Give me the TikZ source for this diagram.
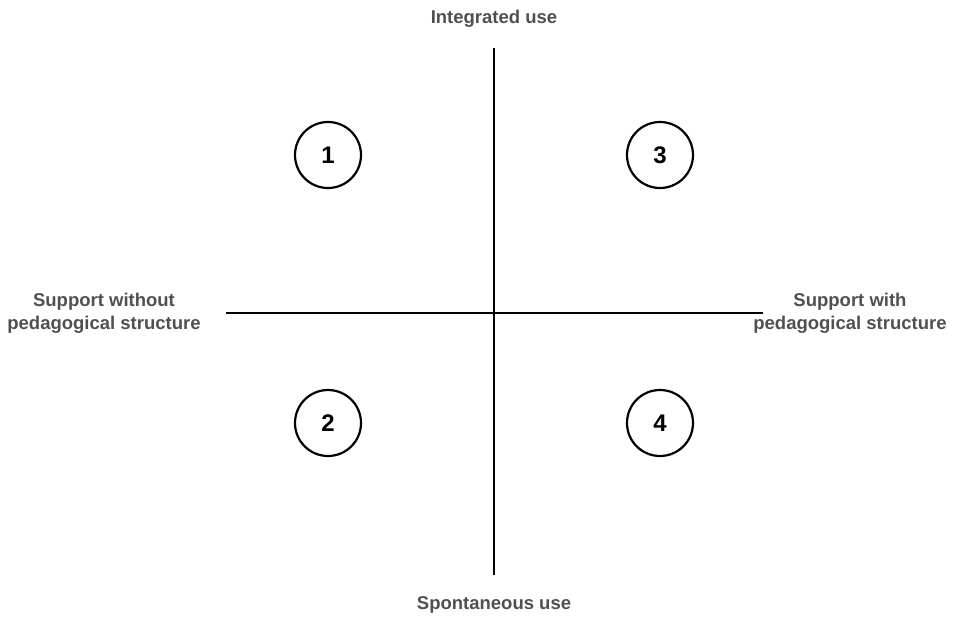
\documentclass[tikz,border=0pt]{standalone}
\usepackage{fontspec}
\setmainfont{Liberation Sans}
\definecolor{labelgray}{HTML}{505050}
\tikzset{
  axis/.style={black, line width=1.8pt},
  quad/.style={circle, draw=black, line width=2.2pt, minimum size=66pt, inner sep=0pt, font=\fontsize{24}{26}\selectfont\bfseries},
  axislabel/.style={text=labelgray, align=center, inner sep=0pt, font=\fontsize{18.5}{23}\selectfont\bfseries}
}
\begin{document}
\begin{tikzpicture}[x=1pt,y=-1pt]
\useasboundingbox (0,0) rectangle (953,616);
% axes
\coordinate (top) at (494,48);
\coordinate (bot) at (494,575);
\coordinate (west) at (226,313);
\coordinate (east) at (763,313);
\draw [axis] (top) -- (bot);
\draw [axis] (west) -- (east);
% axis labels
\node [axislabel] (integrated) at (494,19) {Integrated use};
\node [axislabel] (spontaneous) at (494,605) {Spontaneous use};
\node [axislabel] (without) at (104,313) {Support without\\pedagogical structure};
\node [axislabel] (with) at (850,313) {Support with\\pedagogical structure};
% quadrants
\node [quad] (q1) at (328,155) {1};
\node [quad] (q3) at (660,155) {3};
\node [quad] (q2) at (328,423) {2};
\node [quad] (q4) at (660,423) {4};
\end{tikzpicture}
\end{document}
